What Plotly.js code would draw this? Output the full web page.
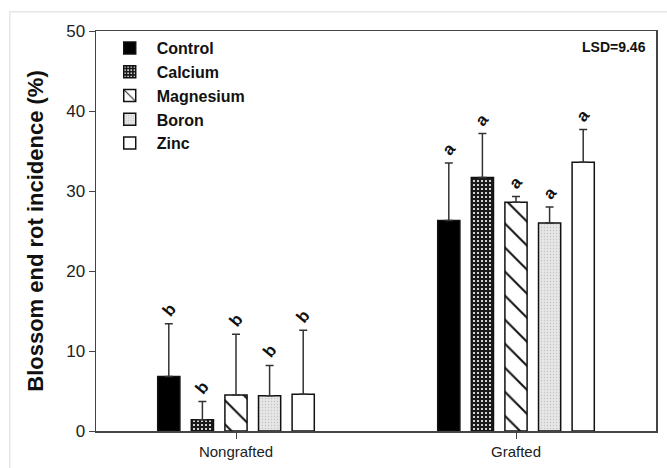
<!DOCTYPE html>
<html><head><meta charset="utf-8">
<script src="https://cdn.plot.ly/plotly-3.0.1.min.js"></script>
<style>html,body{margin:0;padding:0;background:#fff}#chart{width:667px;height:468px}</style>
</head><body><div id="chart"></div>
<script>
const groups = ["Nongrafted", "Grafted"];
const treatments = ["Control", "Calcium", "Magnesium", "Boron", "Zinc"];
const control   = [6.8, 26.3];
const calcium   = [1.4, 31.7];
const magnesium = [4.5, 28.6];
const boron     = [4.4, 26.0];
const zinc      = [4.6, 33.6];
const controlErr   = [6.6, 7.2];
const calciumErr   = [2.3, 5.5];
const magnesiumErr = [7.6, 0.7];
const boronErr     = [3.8, 2.0];
const zincErr      = [8.0, 4.1];
const letters = {
  Control: ["b", "a"], Calcium: ["b", "a"], Magnesium: ["b", "a"], Boron: ["b", "a"], Zinc: ["b", "a"]
};
const lsdLabel = "LSD=9.46";

const values = [control, calcium, magnesium, boron, zinc];
const errs = [controlErr, calciumErr, magnesiumErr, boronErr, zincErr];
const styles = [
  {color: "#000000"},
  {color: "#333333", pattern: {shape: ".", bgcolor: "#1a1a1a", fgcolor: "#ffffff", size: 4, solidity: 0.22, fillmode: "replace"}},
  {color: "#ffffff", pattern: {shape: "\\", bgcolor: "#ffffff", fgcolor: "#111111", size: 17, solidity: 0.12, fillmode: "replace"}},
  {color: "#e3e3e3", pattern: {shape: ".", bgcolor: "#e6e6e6", fgcolor: "#c4c4c4", size: 3, solidity: 0.15, fillmode: "replace"}},
  {color: "#ffffff"}
];

const traces = treatments.map((t, i) => ({
  type: "bar",
  name: t,
  x: groups,
  y: values[i],
  marker: Object.assign({line: {color: "#111", width: 1.5}}, styles[i]),
  error_y: {type: "data", symmetric: false, array: errs[i], arrayminus: groups.map(() => 0),
            color: "#333", thickness: 1.5, width: 4},
  hoverinfo: "none"
}));

const bargap = 0.4, bargroupgap = 0.34;
const slot = (1 - bargap) / treatments.length;
const annotations = [];
treatments.forEach((t, i) => {
  groups.forEach((g, j) => {
    annotations.push({
      x: j - (1 - bargap) / 2 + slot * (i + 0.5),
      y: values[i][j] + errs[i][j],
      xref: "x", yref: "y",
      text: letters[t][j], showarrow: false, textangle: -50,
      yanchor: "bottom", yshift: 1,
      font: {family: "Liberation Sans, Arial, sans-serif", size: 17, color: "#111", weight: "bold"}
    });
  });
});
annotations.push({
  xref: "paper", yref: "paper", x: 0.985, y: 0.985, xanchor: "right", yanchor: "top",
  text: "<b>" + lsdLabel + "</b>", showarrow: false,
  font: {family: "Liberation Sans, Arial, sans-serif", size: 14, color: "#111"}
});

const layout = {
  width: 667, height: 468,
  margin: {l: 96, r: 11, t: 31, b: 37},
  paper_bgcolor: "#ffffff", plot_bgcolor: "#ffffff",
  barmode: "group", bargap: bargap, bargroupgap: bargroupgap,
  font: {family: "Liberation Sans, Arial, sans-serif", color: "#222"},
  showlegend: true,
  legend: {x: 0.012, y: 1.0, xanchor: "left", yanchor: "top", bgcolor: "rgba(0,0,0,0)",
           font: {size: 16, weight: "bold", color: "#111"}, tracegroupgap: 0, itemwidth: 44},
  xaxis: {type: "category", range: [-0.5, 1.5], showline: true, linecolor: "#444", linewidth: 1.5,
          mirror: true, ticks: "outside", ticklen: 6, tickcolor: "#444", showgrid: false,
          tickfont: {size: 15, color: "#222"}, zeroline: false},
  yaxis: {range: [0, 50], dtick: 10, showline: true, linecolor: "#444", linewidth: 1.5, mirror: true,
          ticks: "outside", ticklen: 6, tickcolor: "#444", showgrid: false, zeroline: false,
          tickfont: {size: 17, color: "#222"},
          title: {text: "<b>Blossom end rot incidence (%)</b>", font: {size: 22, color: "#111"}, standoff: 16}},
  annotations: annotations,
  shapes: [{type: "rect", xref: "paper", yref: "paper", x0: -0.154, x1: 1.1, y0: -0.3, y1: 1.048,
            line: {color: "#e6e6e6", width: 1.5}, layer: "below"}]
};

Plotly.newPlot("chart", traces, layout, {staticPlot: true, displayModeBar: false});
</script></body></html>
